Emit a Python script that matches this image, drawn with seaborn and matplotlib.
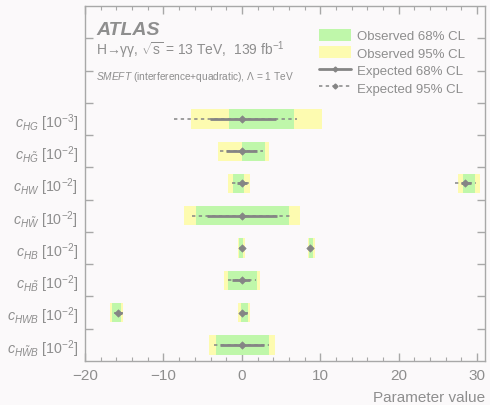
import matplotlib
matplotlib.use("Agg")
import matplotlib.pyplot as plt
from matplotlib.ticker import MultipleLocator, FixedLocator
from matplotlib.patches import Patch
from matplotlib.lines import Line2D
import seaborn as sns
import pandas as pd

# ---- data ----
params = [r"$c_{HG}$ [10$^{-3}$]", r"$c_{H\tilde{G}}$ [10$^{-2}$]", r"$c_{HW}$ [10$^{-2}$]",
          r"$c_{H\tilde{W}}$ [10$^{-2}$]", r"$c_{HB}$ [10$^{-2}$]", r"$c_{H\tilde{B}}$ [10$^{-2}$]",
          r"$c_{HWB}$ [10$^{-2}$]", r"$c_{H\tilde{W}B}$ [10$^{-2}$]"]
# one entry per interval (some parameters have two allowed regions)
interval_param = [0, 1, 2, 2, 3, 4, 4, 5, 6, 6, 7]
obs95_lo = [-6.5, -3.1, -1.8, 27.5, -7.4, -0.55, 8.45, -2.3, -16.8, -0.5, -4.2]
obs95_hi = [10.25, 3.5, 1.05, 30.4, 7.4, 0.35, 9.3, 2.3, -15.2, 1.05, 4.25]
obs68_lo = [-1.7, 0.05, -1.15, 28.2, -5.8, -0.4, 8.6, -1.8, -16.5, -0.12, -3.3]
obs68_hi = [6.6, 2.9, 0.33, 29.7, 5.95, 0.15, 9.1, 1.9, -15.45, 0.75, 3.4]
exp68_lo = [-4.1, -2.0, -0.6, 27.9, -4.5, -0.3, 8.55, -1.25, -16.1, -0.15, -2.8]
exp68_hi = [4.3, 1.9, 0.64, 29.2, 4.5, 0.2, 8.9, 1.1, -15.3, 0.6, 2.8]
exp95_lo = [-8.7, -2.8, -1.3, 27.2, -6.3, -0.4, 8.5, -1.8, -16.3, -0.3, -3.5]
exp95_hi = [7.0, 2.7, 1.35, 29.9, 6.2, 0.3, 9.0, 1.8, -15.2, 0.75, 3.5]
exp_best = [0.0, 0.0, 0.0, 28.5, 0.0, 0.0, 8.72, 0.0, -15.76, 0.0, 0.0]

legend_labels = ["Observed 68% CL", "Observed 95% CL", "Expected 68% CL", "Expected 95% CL"]

# ---- style ----
sns.set_theme(style="ticks")
plt.rcParams["font.family"] = ["Liberation Sans", "DejaVu Sans"]
plt.rcParams["mathtext.fontset"] = "custom"
plt.rcParams["mathtext.rm"] = "Liberation Sans"
plt.rcParams["mathtext.it"] = "Liberation Sans:italic"
plt.rcParams["mathtext.bf"] = "Liberation Sans:bold"

BG = "#fbf9fa"
GREEN = "#bff7aa"
YELLOW = "#fdfbb0"
LINE = "#858585"
TXT = "#8e8e8e"
SPINE = "#a8a8a8"

nrows = len(params)
df = pd.DataFrame({
    "param": interval_param,
    "y": [nrows - 0.5 - p for p in interval_param],
    "o95l": obs95_lo, "o95h": obs95_hi, "o68l": obs68_lo, "o68h": obs68_hi,
    "e68l": exp68_lo, "e68h": exp68_hi, "e95l": exp95_lo, "e95h": exp95_hi,
    "best": exp_best,
})

fig = plt.figure(figsize=(4.9, 4.06), dpi=100, facecolor=BG)
ax = fig.add_axes([0.1735, 0.1084, 0.8163, 0.8744], facecolor=BG)

h = 0.6
ax.barh(df["y"], df["o95h"] - df["o95l"], left=df["o95l"], height=h, color=YELLOW, lw=0, zorder=1)
ax.barh(df["y"], df["o68h"] - df["o68l"], left=df["o68l"], height=h, color=GREEN, lw=0, zorder=2)
ax.hlines(df["y"], df["e95l"], df["e95h"], colors=LINE, linestyles=(0, (2.2, 2.2)), lw=1.1, zorder=3)
ax.hlines(df["y"], df["e68l"], df["e68h"], colors=LINE, linestyles="-", lw=2.0, zorder=4)
sns.scatterplot(data=df, x="best", y="y", ax=ax, color=LINE, marker="D", s=14,
                edgecolor=LINE, linewidth=0.5, zorder=5, legend=False)

ax.set_xlim(-20, 31)
ax.set_ylim(0, 11)
ax.xaxis.set_major_locator(MultipleLocator(10))
ax.xaxis.set_minor_locator(MultipleLocator(2))
ax.yaxis.set_major_locator(FixedLocator([nrows - 0.5 - i for i in range(nrows)]))
ax.set_yticklabels(params)
ax.yaxis.set_minor_locator(FixedLocator(list(range(1, 11))))
ax.tick_params(axis="x", which="major", direction="in", length=6, width=1, colors=SPINE,
               labelcolor=TXT, labelsize=11, top=True, pad=5)
ax.tick_params(axis="x", which="minor", direction="in", length=3, width=0.8, colors=SPINE, top=True)
ax.tick_params(axis="y", which="major", length=0, labelcolor=TXT, labelsize=10.3, pad=5)
ax.tick_params(axis="y", which="minor", direction="in", length=6, width=1, colors=SPINE, right=True)
for sp in ax.spines.values():
    sp.set_visible(True)
    sp.set_color(SPINE)
    sp.set_linewidth(1.0)
ax.set_xlabel("Parameter value", color=TXT, fontsize=11, ha="right", x=1.0, labelpad=6)
ax.set_ylabel("")

# texts
ax.text(0.028, 0.921, "ATLAS", transform=ax.transAxes, fontsize=14, fontweight="bold",
        fontstyle="italic", color=TXT)
ax.text(0.028, 0.865, "H→γγ, " + r"$\sqrt{\mathrm{s}}$" + " = 13 TeV,  139 fb" + r"$^{-1}$",
        transform=ax.transAxes, fontsize=10, color=TXT)
ax.text(0.028, 0.795, r"$SMEFT$ (interference+quadratic), $\Lambda$ = 1 TeV",
        transform=ax.transAxes, fontsize=7.3, color=TXT)

handles = [Patch(facecolor=GREEN, edgecolor="none"),
           Patch(facecolor=YELLOW, edgecolor="none"),
           Line2D([0], [0], color=LINE, lw=2.0, marker="D", markersize=2.5),
           Line2D([0], [0], color=LINE, lw=1.1, ls=(0, (2.2, 2.2)), marker="D", markersize=2.5)]
leg = ax.legend(handles, legend_labels, loc="upper right", bbox_to_anchor=(0.95, 0.935),
                frameon=False, fontsize=9.5, labelcolor=TXT, handlelength=2.4,
                handleheight=1.0, handletextpad=0.45, labelspacing=0.3, borderpad=0.0,
                borderaxespad=0.0)

fig.savefig("out.png", dpi=100, facecolor=BG)
